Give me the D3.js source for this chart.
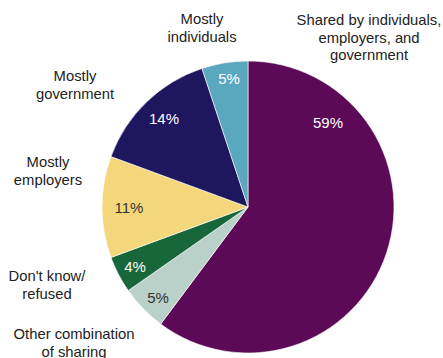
<!DOCTYPE html>
<html>
<head>
<meta charset="utf-8">
<script src="https://cdn.jsdelivr.net/npm/d3@7"></script>
<style>
  html, body { margin: 0; padding: 0; background: #fff; }
  svg { display: block; }
  text { font-family: "Liberation Sans", Arial, sans-serif; }
</style>
</head>
<body>
<svg id="chart" width="443" height="358"></svg>
<script>
// Who pays for health care: share of responses
const categories = [
  "Shared by individuals, employers, and government",
  "Other combination of sharing",
  "Don't know/ refused",
  "Mostly employers",
  "Mostly government",
  "Mostly individuals"
];
const values = [59, 5, 4, 11, 14, 5];
const valueLabels = ["59%", "5%", "4%", "11%", "14%", "5%"];
const nameLines = [
  ["Shared by individuals,", "employers, and", "government"],
  ["Other combination", "of sharing"],
  ["Don't know/", "refused"],
  ["Mostly", "employers"],
  ["Mostly", "government"],
  ["Mostly", "individuals"]
];

const colors = ["#5c0a58", "#b9d1c9", "#17673b", "#f4d77a", "#1f1660", "#5aa8bf"];
const valueColors = ["#ffffff", "#333333", "#ffffff", "#333333", "#ffffff", "#ffffff"];

// placement of the value labels (relative to the pie centre) and of the outside names
const valuePos = [[80, -84], [-90, 91], [-113, 60], [-119, 1], [-84, -88], [-19, -128]];
const namePos = [[369, 20], [74, 334], [47, 276], [48, 162], [75, 76], [202, 19]];

const cx = 248, cy = 207, radius = 146;
const svg = d3.select("#chart");

const pie = d3.pie().sort(null).value(d => d)
  .startAngle(0).endAngle(2 * Math.PI);
const arc = d3.arc().innerRadius(0).outerRadius(radius);
const arcs = pie(values);

const g = svg.append("g").attr("transform", `translate(${cx},${cy})`);

g.selectAll("path.slice")
  .data(arcs)
  .join("path")
  .attr("class", "slice")
  .attr("d", arc)
  .attr("fill", (d, i) => colors[i])
  .attr("stroke", "#ffffff")
  .attr("stroke-width", 0.6);

g.selectAll("text.value")
  .data(arcs)
  .join("text")
  .attr("class", "value")
  .attr("x", (d, i) => valuePos[i][0])
  .attr("y", (d, i) => valuePos[i][1])
  .attr("dy", "0.35em")
  .attr("text-anchor", "middle")
  .attr("font-size", 15)
  .attr("fill", (d, i) => valueColors[i])
  .text((d, i) => valueLabels[i]);

const names = svg.selectAll("text.name")
  .data(nameLines)
  .join("text")
  .attr("class", "name")
  .attr("text-anchor", "middle")
  .attr("font-size", 14.8)
  .attr("fill", "#222222");

names.each(function (lines, i) {
  const t = d3.select(this);
  lines.forEach((line, j) => {
    t.append("tspan")
      .attr("x", namePos[i][0])
      .attr("y", namePos[i][1] + j * 17.5)
      .attr("dy", "0.35em")
      .text(line);
  });
});
</script>
</body>
</html>
